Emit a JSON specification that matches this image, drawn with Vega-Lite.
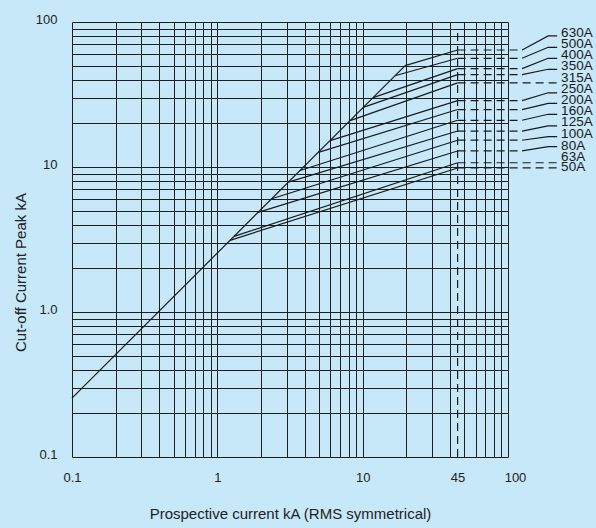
{
  "$schema": "https://vega.github.io/schema/vega-lite/v6.json",
  "width": 436,
  "height": 435,
  "autosize": "none",
  "padding": {"left": 72, "top": 22, "right": 88, "bottom": 71},
  "background": "#c7e8f8",
  "config": {"view": {"stroke": null}, "font": "Liberation Sans"},
  "datasets": {
    "curves": [
      {"fuse": "env", "x": 0.1, "y": 0.255}, {"fuse": "env", "x": 19.6, "y": 50},
      {"fuse": "630A", "x": 19.6, "y": 50}, {"fuse": "630A", "x": 45, "y": 64.1},
      {"fuse": "500A", "x": 16.7, "y": 42.6}, {"fuse": "500A", "x": 45, "y": 56.2},
      {"fuse": "400A", "x": 11.8, "y": 30.1}, {"fuse": "400A", "x": 45, "y": 47.7},
      {"fuse": "350A", "x": 10.1, "y": 25.8}, {"fuse": "350A", "x": 45, "y": 43.4},
      {"fuse": "315A", "x": 8.19, "y": 20.9}, {"fuse": "315A", "x": 45, "y": 38.0},
      {"fuse": "250A", "x": 5.97, "y": 15.2}, {"fuse": "250A", "x": 45, "y": 28.7},
      {"fuse": "200A", "x": 4.96, "y": 12.6}, {"fuse": "200A", "x": 45, "y": 24.9},
      {"fuse": "160A", "x": 3.71, "y": 9.46}, {"fuse": "160A", "x": 45, "y": 21.0},
      {"fuse": "125A", "x": 3.08, "y": 7.86}, {"fuse": "125A", "x": 45, "y": 17.7},
      {"fuse": "100A", "x": 2.37, "y": 6.04}, {"fuse": "100A", "x": 45, "y": 15.3},
      {"fuse": "80A", "x": 1.905, "y": 4.86}, {"fuse": "80A", "x": 45, "y": 12.9},
      {"fuse": "63A", "x": 1.303, "y": 3.32}, {"fuse": "63A", "x": 45, "y": 10.7},
      {"fuse": "50A", "x": 1.223, "y": 3.12}, {"fuse": "50A", "x": 45, "y": 9.85}
    ],
    "dashes": [
      {"fuse": "v45", "x": 45, "y": 0.1}, {"fuse": "v45", "x": 45, "y": 85},
      {"fuse": "630A", "x": 45, "y": 64.1}, {"fuse": "630A", "x": 125, "y": 64.1},
      {"fuse": "500A", "x": 45, "y": 56.2}, {"fuse": "500A", "x": 125, "y": 56.2},
      {"fuse": "400A", "x": 45, "y": 47.7}, {"fuse": "400A", "x": 125, "y": 47.7},
      {"fuse": "350A", "x": 45, "y": 43.4}, {"fuse": "350A", "x": 125, "y": 43.4},
      {"fuse": "315A", "x": 45, "y": 38.0}, {"fuse": "315A", "x": 218, "y": 38.0},
      {"fuse": "250A", "x": 45, "y": 28.7}, {"fuse": "250A", "x": 125, "y": 28.7},
      {"fuse": "200A", "x": 45, "y": 24.9}, {"fuse": "200A", "x": 125, "y": 24.9},
      {"fuse": "160A", "x": 45, "y": 21.0}, {"fuse": "160A", "x": 125, "y": 21.0},
      {"fuse": "125A", "x": 45, "y": 17.7}, {"fuse": "125A", "x": 125, "y": 17.7},
      {"fuse": "100A", "x": 45, "y": 15.3}, {"fuse": "100A", "x": 125, "y": 15.3},
      {"fuse": "80A", "x": 45, "y": 12.9}, {"fuse": "80A", "x": 125, "y": 12.9},
      {"fuse": "63A", "x": 45, "y": 10.7}, {"fuse": "63A", "x": 218, "y": 10.7},
      {"fuse": "50A", "x": 45, "y": 9.85}, {"fuse": "50A", "x": 218, "y": 9.85}
    ],
    "leaders": [
      {"fuse": "630A", "x": 125, "y": 64.1}, {"fuse": "630A", "x": 189, "y": 80.1}, {"fuse": "630A", "x": 218, "y": 80.1},
      {"fuse": "500A", "x": 125, "y": 56.2}, {"fuse": "500A", "x": 189, "y": 66.9}, {"fuse": "500A", "x": 218, "y": 66.9},
      {"fuse": "400A", "x": 125, "y": 47.7}, {"fuse": "400A", "x": 189, "y": 56.2}, {"fuse": "400A", "x": 218, "y": 56.2},
      {"fuse": "350A", "x": 125, "y": 43.4}, {"fuse": "350A", "x": 189, "y": 47.2}, {"fuse": "350A", "x": 218, "y": 47.2},
      {"fuse": "250A", "x": 125, "y": 28.7}, {"fuse": "250A", "x": 189, "y": 32.5}, {"fuse": "250A", "x": 218, "y": 32.5},
      {"fuse": "200A", "x": 125, "y": 24.9}, {"fuse": "200A", "x": 189, "y": 27.5}, {"fuse": "200A", "x": 218, "y": 27.5},
      {"fuse": "160A", "x": 125, "y": 21.0}, {"fuse": "160A", "x": 189, "y": 23.1}, {"fuse": "160A", "x": 218, "y": 23.1},
      {"fuse": "125A", "x": 125, "y": 17.7}, {"fuse": "125A", "x": 189, "y": 19.2}, {"fuse": "125A", "x": 218, "y": 19.2},
      {"fuse": "100A", "x": 125, "y": 15.3}, {"fuse": "100A", "x": 189, "y": 16.2}, {"fuse": "100A", "x": 218, "y": 16.2},
      {"fuse": "80A", "x": 125, "y": 12.9}, {"fuse": "80A", "x": 189, "y": 13.8}, {"fuse": "80A", "x": 218, "y": 13.8}
    ],
    "labels": [
      {"label": "630A", "x": 232, "y": 83.9},
      {"label": "500A", "x": 232, "y": 70.5},
      {"label": "400A", "x": 232, "y": 59.2},
      {"label": "350A", "x": 232, "y": 49.7},
      {"label": "315A", "x": 232, "y": 41.4},
      {"label": "250A", "x": 232, "y": 34.5},
      {"label": "200A", "x": 232, "y": 29.0},
      {"label": "160A", "x": 232, "y": 24.3},
      {"label": "125A", "x": 232, "y": 20.4},
      {"label": "100A", "x": 232, "y": 16.9},
      {"label": "80A", "x": 232, "y": 14.0},
      {"label": "63A", "x": 232, "y": 11.7},
      {"label": "50A", "x": 232, "y": 10.0}
    ]
  },
  "encoding": {
    "x": {
      "field": "x", "type": "quantitative",
      "scale": {"type": "log", "domain": [0.1, 100], "nice": false},
      "axis": {
        "values": [0.1, 0.2, 0.3, 0.4, 0.5, 0.6, 0.7, 0.8, 0.9, 1, 2, 3, 4, 5, 6, 7, 8, 9, 10, 20, 30, 40, 45, 50, 60, 70, 80, 90, 100],
        "labelExpr": "datum.value == 0.1 ? '0.1' : datum.value == 1 ? '1' : datum.value == 10 ? '10' : datum.value == 45 ? '45' : datum.value == 100 ? '100' : ''",
        "grid": true, "gridColor": "#1e1e1e", "gridWidth": 1,
        "gridOpacity": {"condition": {"test": "datum.value == 45", "value": 0}, "value": 1},
        "ticks": false, "domain": false,
        "labelPadding": 14, "labelFontSize": 13, "labelColor": "#222",
        "labelOverlap": false, "labelFlush": false, "labelBound": false,
        "labelOffset": {"condition": {"test": "datum.value == 100", "value": 7}, "value": 0},
        "title": "Prospective current kA (RMS symmetrical)",
        "titleFontSize": 15, "titleFontWeight": "normal", "titleColor": "#222", "titlePadding": 22
      }
    },
    "y": {
      "field": "y", "type": "quantitative",
      "scale": {"type": "log", "domain": [0.1, 100], "nice": false},
      "axis": {
        "values": [0.1, 0.2, 0.3, 0.4, 0.5, 0.6, 0.7, 0.8, 0.9, 1, 2, 3, 4, 5, 6, 7, 8, 9, 10, 20, 30, 40, 50, 60, 70, 80, 90, 100],
        "labelExpr": "datum.value == 0.1 ? '0.1' : datum.value == 1 ? '1.0' : datum.value == 10 ? '10' : datum.value == 100 ? '100' : ''",
        "grid": true, "gridColor": "#1e1e1e", "gridWidth": 1,
        "ticks": false, "domain": false,
        "labelPadding": 15, "labelFontSize": 13, "labelColor": "#222",
        "labelOverlap": false, "labelFlush": false, "labelBound": false,
        "labelOffset": -3,
        "title": "Cut-off Current Peak kA",
        "titleFontSize": 15, "titleFontWeight": "normal", "titleColor": "#222",
        "titleAngle": -90, "titleAlign": "center", "titleBaseline": "middle",
        "titleX": -52, "titleY": 250
      }
    }
  },
  "layer": [
    {
      "data": {"name": "curves"},
      "mark": {"type": "line", "color": "#1a1a1a", "strokeWidth": 1.2},
      "encoding": {"detail": {"field": "fuse"}}
    },
    {
      "data": {"name": "dashes"},
      "mark": {"type": "line", "color": "#1a1a1a", "strokeWidth": 1.2, "strokeDash": [8, 5]},
      "encoding": {"detail": {"field": "fuse"}}
    },
    {
      "data": {"name": "leaders"},
      "mark": {"type": "line", "color": "#1a1a1a", "strokeWidth": 1.2},
      "encoding": {"detail": {"field": "fuse"}}
    },
    {
      "data": {"name": "labels"},
      "mark": {"type": "text", "align": "left", "baseline": "middle", "fontSize": 13.5, "color": "#1a1a1a", "font": "Liberation Sans"},
      "encoding": {"text": {"field": "label"}}
    }
  ]
}
